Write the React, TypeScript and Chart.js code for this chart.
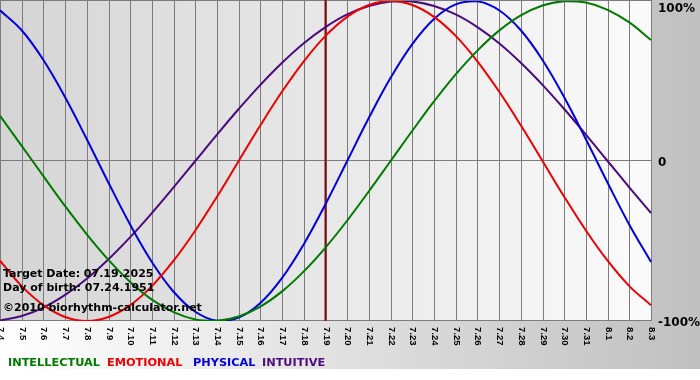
import React, { useEffect, useRef } from "react";
import { Chart, registerables } from "chart.js";

Chart.register(...registerables);

const dayLabels = [
  "7.4", "7.5", "7.6", "7.7", "7.8", "7.9", "7.10", "7.11", "7.12", "7.13", "7.14",
  "7.15", "7.16", "7.17", "7.18", "7.19", "7.20", "7.21", "7.22", "7.23", "7.24",
  "7.25", "7.26", "7.27", "7.28", "7.29", "7.30", "7.31", "8.1", "8.2", "8.3",
];

const intellectual = [
  28.2, 9.5, -9.5, -28.2, -45.8, -61.8, -75.6, -86.6, -94.5, -99.0, -99.9,
  -97.2, -91.0, -81.5, -69.0, -54.1, -37.2, -18.9, 0, 18.9, 37.2,
  54.1, 69.0, 81.5, 91.0, 97.2, 99.9, 99.0, 94.5, 86.6, 75.6,
];
const emotional = [
  -62.3, -78.2, -90.1, -97.5, -100, -97.5, -90.1, -78.2, -62.3, -43.4, -22.3,
  0, 22.3, 43.4, 62.3, 78.2, 90.1, 97.5, 100, 97.5, 90.1,
  78.2, 62.3, 43.4, 22.3, 0, -22.3, -43.4, -62.3, -78.2, -90.1,
];
const physical = [
  94.2, 81.7, 63.1, 39.8, 13.6, -13.6, -39.8, -63.1, -81.7, -94.2, -99.8,
  -97.9, -88.8, -73.1, -52.0, -27.0, 0, 27.0, 52.0, 73.1, 88.8,
  97.9, 99.8, 94.2, 81.7, 63.1, 39.8, 13.6, -13.6, -39.8, -63.1,
];
const intuitive = [
  -99.7, -96.9, -91.6, -83.7, -73.6, -61.4, -47.6, -32.5, -16.5, 0, 16.5,
  32.5, 47.6, 61.4, 73.6, 83.7, 91.6, 96.9, 99.7, 99.7, 96.9,
  91.6, 83.7, 73.6, 61.4, 47.6, 32.5, 16.5, 0, -16.5, -32.5,
];

const seriesNames = ["INTELLECTUAL", "EMOTIONAL", "PHYSICAL", "INTUITIVE"];
const seriesColors = ["#007a00", "#ee0000", "#0000dd", "#4b0a7e"];
const yTickLabels = ["100%", "0", "-100%"];
const yTickValues = [100, 0, -100];
const targetLabel = "7.19";
const infoLines = [
  "Target Date: 07.19.2025",
  "Day of birth: 07.24.1951",
  "\u00a92010 biorhythm-calculator.net",
];

const legendX = [8, 107, 193, 262];

const bioPlugin = {
  id: "bioDecor",
  beforeDraw(chart: any) {
    const { ctx, chartArea: a, width, height } = chart;
    ctx.save();
    ctx.fillStyle = "#ffffff";
    ctx.fillRect(0, 0, width, height);
    let g = ctx.createLinearGradient(0, 0, width, 0);
    g.addColorStop(0, "#ffffff");
    g.addColorStop(1, "#c0c0c0");
    ctx.fillStyle = g;
    ctx.fillRect(0, 0, width, 369);
    g = ctx.createLinearGradient(a.left, 0, a.right, 0);
    g.addColorStop(0, "#d5d5d5");
    g.addColorStop(1, "#fbfbfb");
    ctx.fillStyle = g;
    ctx.fillRect(a.left, 0, a.right - a.left + 1, a.bottom);

    const xs = chart.scales.x;
    const ys = chart.scales.y;
    ctx.strokeStyle = "#7c7c7c";
    ctx.lineWidth = 1;
    ctx.beginPath();
    dayLabels.forEach((_, i) => {
      const x = Math.round(xs.getPixelForValue(i)) + 0.5;
      ctx.moveTo(x, 0);
      ctx.lineTo(x, a.bottom);
    });
    yTickValues.forEach((v) => {
      const y = Math.round(ys.getPixelForValue(v)) - 0.5;
      ctx.moveTo(a.left, y);
      ctx.lineTo(a.right + 1, y);
    });
    ctx.stroke();
    ctx.restore();
  },
  beforeDatasetsDraw(chart: any) {
    const { ctx, chartArea: a } = chart;
    const xs = chart.scales.x;
    const x = xs.getPixelForValue(dayLabels.indexOf(targetLabel));
    ctx.save();
    ctx.strokeStyle = "#800c0c";
    ctx.lineWidth = 2;
    ctx.beginPath();
    ctx.moveTo(x, 0);
    ctx.lineTo(x, a.bottom);
    ctx.stroke();
    ctx.restore();
  },
  afterDraw(chart: any) {
    const { ctx, chartArea: a } = chart;
    const xs = chart.scales.x;
    const ys = chart.scales.y;
    ctx.save();
    // info text
    ctx.fillStyle = "#000000";
    ctx.font = 'bold 11px "DejaVu Sans"';
    ctx.textAlign = "left";
    ctx.textBaseline = "alphabetic";
    const infoY = [277, 291, 311];
    infoLines.forEach((t, i) => ctx.fillText(t, 3, infoY[i]));

    // y tick labels
    ctx.font = 'bold 12px "DejaVu Sans"';
    yTickValues.forEach((v, i) => {
      let y = ys.getPixelForValue(v) + 5;
      if (y < 12) y = 12;
      ctx.fillText(yTickLabels[i], 658, y);
    });

    // x labels rotated clockwise
    ctx.font = 'bold 9.5px "Liberation Sans"';
    ctx.textBaseline = "middle";
    dayLabels.forEach((lab, i) => {
      const x = Math.round(xs.getPixelForValue(i)) + 0.5;
      ctx.save();
      ctx.translate(x, a.bottom + 6);
      ctx.rotate(Math.PI / 2);
      ctx.fillText(lab, 0, 0);
      ctx.restore();
    });

    // legend
    ctx.font = 'bold 11.3px "DejaVu Sans"';
    ctx.textBaseline = "alphabetic";
    seriesNames.forEach((n, i) => {
      ctx.fillStyle = seriesColors[i];
      ctx.fillText(n, legendX[i], 366);
    });
    ctx.restore();
  },
};

export default function App() {
  const ref = useRef<HTMLCanvasElement | null>(null);
  useEffect(() => {
    if (!ref.current) return;
    const seriesData = [intellectual, emotional, physical, intuitive];
    const chart = new Chart(ref.current, {
      type: "line",
      data: {
        labels: dayLabels,
        datasets: seriesNames.map((n, i) => ({
          label: n,
          data: seriesData[i],
          borderColor: seriesColors[i],
          borderWidth: 2,
          pointRadius: 0,
          tension: 0.4,
          fill: false,
        })),
      },
      options: {
        responsive: false,
        animation: false,
        devicePixelRatio: 1,
        layout: { padding: { left: 0, top: 1, right: 49, bottom: 59 } },
        plugins: { legend: { display: false }, tooltip: { enabled: false } },
        events: [],
        scales: {
          x: { type: "category", display: false, offset: false },
          y: { type: "linear", display: false, min: -100, max: 100 },
        },
      },
      plugins: [bioPlugin],
    });
    return () => chart.destroy();
  }, []);
  return (
    <div style={{ position: "fixed", left: 0, top: 0, width: 700, height: 380 }}>
      <canvas ref={ref} width={700} height={380} style={{ width: 700, height: 380, display: "block" }} />
    </div>
  );
}
